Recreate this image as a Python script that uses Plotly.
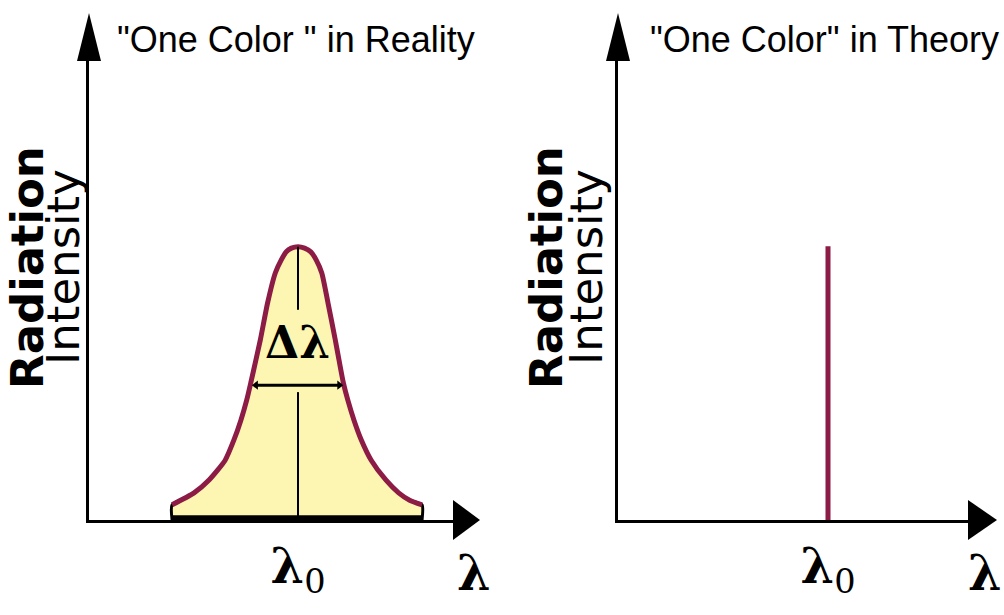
import plotly.graph_objects as go

# Emission profile of a real "single colour" source (arbitrary units)
wavelength = [22.7, 28.7, 32.8, 37.2, 39.6, 41.5, 43.1, 44.2, 45.6, 46.8, 48.8, 50.9,
              52.5, 53.9, 55.3, 57.1, 58.9, 60.6, 62.1, 63.6, 65.3, 67.3, 68.3,
              69.5, 70.7, 72.4, 74.4, 77.1, 81.1, 84.6, 87.6, 91.0]
intensity = [3.3, 5.9, 8.7, 13.0, 17.4, 21.7, 26.1, 29.8, 34.8, 39.1, 47.2, 53.7,
             56.5, 58.3, 59.1, 59.4, 59.1, 58.3, 56.5, 53.7, 47.2, 39.1, 34.8,
             29.8, 26.1, 21.7, 17.4, 13.0, 8.7, 5.9, 4.3, 3.3]

center_real = 57.1          # λ0 of the real line
half_max_level = 29.3       # height where Δλ is measured
half_max_edges = [45.6, 68.4]
center_gap = [27.8, 45.7]   # centre line is broken around the Δλ label

# Ideal monochromatic line
center_ideal = 60.0
ideal_peak = 59.5

titles = ['"One Color " in Reality', '"One Color" in Theory']
y_label = ["Radiation", "Intensity"]
tick_text = "<b>λ</b><sub>0</sub>"

W, H = 1004, 615
LINE_RED = "#8c1b45"
FILL_YELLOW = "#fdf6b2"
TITLE_FONT = "Liberation Sans, Arial, sans-serif"
SERIF = "DejaVu Serif, serif"


def px(x):
    return x / W


def py(y):
    return 1 - y / H


fig = go.Figure()

# ---- left panel: broadened line ----
fill_x = [wavelength[0]] + wavelength + [wavelength[-1]]
fill_y = [0] + intensity + [0]
fig.add_trace(go.Scatter(x=fill_x, y=fill_y, fill="toself", fillcolor=FILL_YELLOW,
                         mode="lines", line=dict(color="black", width=3, shape="spline", smoothing=0.6),
                         xaxis="x", yaxis="y", hoverinfo="skip"))
# thicker base under the profile
fig.add_trace(go.Scatter(x=[wavelength[0], wavelength[-1]], y=[0.5, 0.5], mode="lines",
                         line=dict(color="black", width=5), xaxis="x", yaxis="y"))
fig.add_trace(go.Scatter(x=wavelength, y=intensity, mode="lines",
                         line=dict(color=LINE_RED, width=5, shape="spline", smoothing=0.6),
                         xaxis="x", yaxis="y"))
peak = max(intensity)
fig.add_trace(go.Scatter(x=[center_real, center_real, None, center_real, center_real],
                         y=[peak, center_gap[1], None, center_gap[0], 0], mode="lines",
                         line=dict(color="black", width=2), xaxis="x", yaxis="y"))
# Δλ width marker
fig.add_trace(go.Scatter(x=half_max_edges, y=[half_max_level, half_max_level],
                         mode="lines+markers", line=dict(color="black", width=3),
                         marker=dict(symbol=["triangle-left", "triangle-right"], size=8,
                                     color="black"),
                         xaxis="x", yaxis="y"))

# ---- right panel: ideal line ----
fig.add_trace(go.Scatter(x=[center_ideal, center_ideal], y=[0, ideal_peak], mode="lines",
                         line=dict(color=LINE_RED, width=5), xaxis="x2", yaxis="y2"))

ydom = [py(520), py(60)]
panels = [("x", "y", [px(89), px(455)], center_real),
          ("x2", "y2", [px(618), px(968)], center_ideal)]
axis_style = dict(showgrid=False, zeroline=False, showline=True, linecolor="black",
                  linewidth=3, ticks="", fixedrange=True)
layout_axes = {}
for xa, ya, dom, c in panels:
    xkey = "xaxis" if xa == "x" else "xaxis2"
    ykey = "yaxis" if ya == "y" else "yaxis2"
    layout_axes[xkey] = dict(domain=dom, range=[0, 100], anchor=ya, tickvals=[c],
                             ticktext=[tick_text], ticklabelstandoff=2,
                             tickfont=dict(family=SERIF, size=48, color="black"),
                             **axis_style)
    layout_axes[ykey] = dict(domain=ydom, range=[0, 100], anchor=xa,
                             showticklabels=False, **axis_style)

fig.update_layout(width=W, height=H, margin=dict(l=0, r=0, t=0, b=0),
                  paper_bgcolor="white", plot_bgcolor="white", showlegend=False,
                  **layout_axes)

# Arrowheads on the axes
shapes = []
for ax_x, tip_x, base_x in [(89, 480, 453), (618, 997, 968)]:
    shapes.append(dict(type="path", xref="paper", yref="paper", fillcolor="black",
                       line=dict(width=0),
                       path=f"M {px(ax_x-12)} {py(61)} L {px(ax_x+12)} {py(61)} L {px(ax_x)} {py(13)} Z"))
    shapes.append(dict(type="path", xref="paper", yref="paper", fillcolor="black",
                       line=dict(width=0),
                       path=f"M {px(base_x)} {py(500)} L {px(base_x)} {py(540)} L {px(tip_x)} {py(520)} Z"))
fig.update_layout(shapes=shapes)

ann = []
ann.append(dict(x=center_real, y=38.5, xref="x", yref="y", text="<b>Δλ</b>", showarrow=False,
                xanchor="center", yanchor="middle",
                font=dict(family=SERIF, size=44, color="black")))
# λ at the end of each wavelength axis
for xpos in [474, 985]:
    ann.append(dict(x=px(xpos), y=py(573), xref="paper", yref="paper", text="<b>λ</b>",
                    xanchor="center", yanchor="middle",
                    showarrow=False, font=dict(family=SERIF, size=48, color="black")))
# Titles
for xpos, t in [(115, titles[0]), (648, titles[1])]:
    ann.append(dict(x=px(xpos), y=py(39), xref="paper", yref="paper", text=t,
                    xanchor="left", yanchor="middle",
                    showarrow=False, font=dict(family=TITLE_FONT, size=36, color="black")))
# Vertical axis labels
for x1, x2 in [(27, 64), (546, 587)]:
    ann.append(dict(x=px(x1), y=py(268), xref="paper", yref="paper", text=f"<b>{y_label[0]}</b>",
                    textangle=-90, showarrow=False, xanchor="center", yanchor="middle",
                    font=dict(family="DejaVu Sans, sans-serif", size=45, color="black")))
    ann.append(dict(x=px(x2), y=py(267), xref="paper", yref="paper", text=y_label[1],
                    textangle=-90, showarrow=False, xanchor="center", yanchor="middle",
                    font=dict(family="DejaVu Sans, sans-serif", size=45, color="black")))
fig.update_layout(annotations=ann)

fig.write_html("out.html")
